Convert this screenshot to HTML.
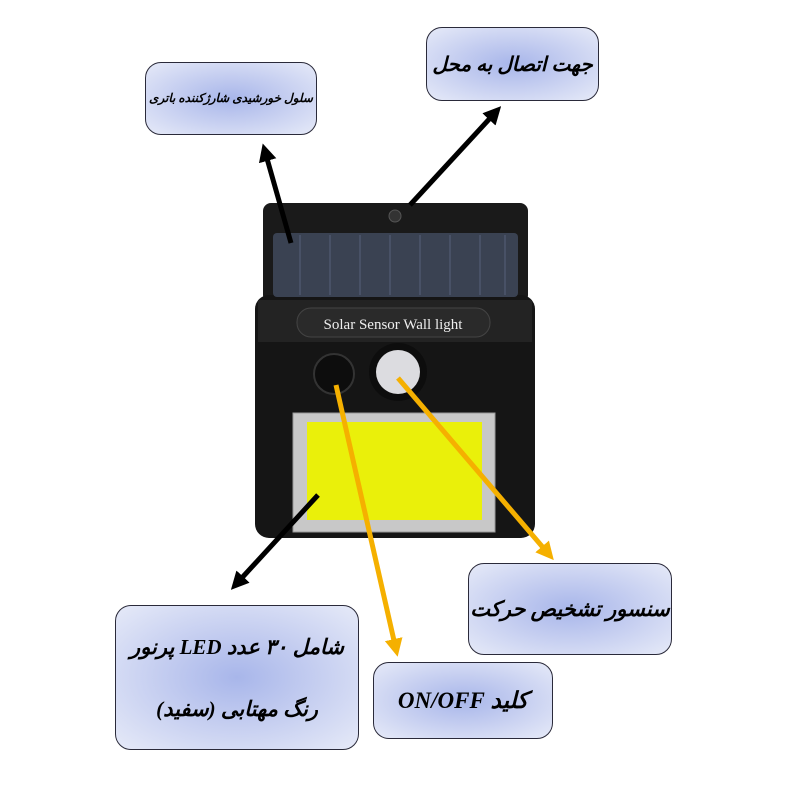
<!DOCTYPE html>
<html><head><meta charset="utf-8"><style>
body{margin:0;width:800px;height:800px;background:#fff;position:relative;overflow:hidden;font-family:"Liberation Serif","Noto Serif CJK SC",serif}
.box{position:absolute;border:1.5px solid #2a2a3a;border-radius:16px;background:radial-gradient(ellipse at center,#a8b6ea 0%,#c4cdf0 45%,#e6eaf8 100%);display:flex;flex-direction:column;align-items:center;justify-content:center;font-weight:bold;color:#000;direction:rtl;font-style:italic;white-space:nowrap}
</style></head><body>
<svg width="800" height="800" style="position:absolute;left:0;top:0">
<defs>
<marker id="ab" markerWidth="18" markerHeight="18" refX="6" refY="9" orient="auto" markerUnits="userSpaceOnUse" viewBox="0 0 18 18"><path d="M0,0 L18,9 L0,18 z" fill="#000"/></marker>
<marker id="ay" markerWidth="18" markerHeight="18" refX="6" refY="9" orient="auto" markerUnits="userSpaceOnUse" viewBox="0 0 18 18"><path d="M0,0 L18,9 L0,18 z" fill="#f5b000"/></marker>
</defs>
<rect x="263" y="203" width="265" height="100" rx="8" fill="#1a1a1a"/>
<rect x="255" y="295" width="280" height="243" rx="14" fill="#151515"/>
<rect x="258" y="300" width="274" height="42" fill="#232323"/>
<rect x="273" y="233" width="245" height="64" rx="4" fill="#3a4252"/>
<g stroke="#56607a" stroke-width="1">
<line x1="300" y1="235" x2="300" y2="295"/><line x1="330" y1="235" x2="330" y2="295"/><line x1="360" y1="235" x2="360" y2="295"/><line x1="390" y1="235" x2="390" y2="295"/><line x1="420" y1="235" x2="420" y2="295"/><line x1="450" y1="235" x2="450" y2="295"/><line x1="480" y1="235" x2="480" y2="295"/><line x1="505" y1="235" x2="505" y2="295"/>
</g>
<circle cx="395" cy="216" r="6" fill="#333" stroke="#555"/>
<rect x="297" y="308" width="193" height="29" rx="14" fill="#2a2a2a" stroke="#444"/>
<text x="393" y="329" text-anchor="middle" font-family="Liberation Serif" font-size="15" fill="#eee">Solar Sensor Wall light</text>
<circle cx="334" cy="374" r="20" fill="#0d0d0d" stroke="#333" stroke-width="2"/>
<circle cx="398" cy="372" r="29" fill="#0d0d0d"/>
<circle cx="398" cy="372" r="22" fill="#dcdce0"/>
<rect x="293" y="413" width="202" height="119" fill="#c8c8c8" stroke="#999"/>
<rect x="307" y="422" width="175" height="98" fill="#eaf00a"/>
<line x1="291" y1="243" x2="266" y2="155" stroke="#000" stroke-width="5" marker-end="url(#ab)"/>
<line x1="410" y1="205" x2="493" y2="115" stroke="#000" stroke-width="5" marker-end="url(#ab)"/>
<line x1="318" y1="495" x2="239" y2="581" stroke="#000" stroke-width="5" marker-end="url(#ab)"/>
<line x1="336" y1="385" x2="395" y2="645" stroke="#f5b000" stroke-width="5" marker-end="url(#ay)"/>
<line x1="398" y1="378" x2="546" y2="551" stroke="#f5b000" stroke-width="5" marker-end="url(#ay)"/>
</svg>
<div class="box" style="left:145px;top:62px;width:170px;height:71px;font-size:12px">سلول خورشیدی شارژکننده باتری</div>
<div class="box" style="left:426px;top:27px;width:171px;height:72px;font-size:20px">جهت اتصال به محل</div>
<div class="box" style="left:115px;top:605px;width:242px;height:143px;font-size:21px;line-height:62px"><div>شامل ۳۰ عدد <span style="font-family:'Liberation Serif'">LED</span> پرنور</div><div>رنگ مهتابی (سفید)</div></div>
<div class="box" style="left:468px;top:563px;width:202px;height:90px;font-size:21px">سنسور تشخیص حرکت</div>
<div class="box" style="left:373px;top:662px;width:178px;height:75px;font-size:23px"><div>کلید <span style="font-family:'Liberation Serif';direction:ltr;unicode-bidi:embed">ON/OFF</span></div></div>
</body></html>
